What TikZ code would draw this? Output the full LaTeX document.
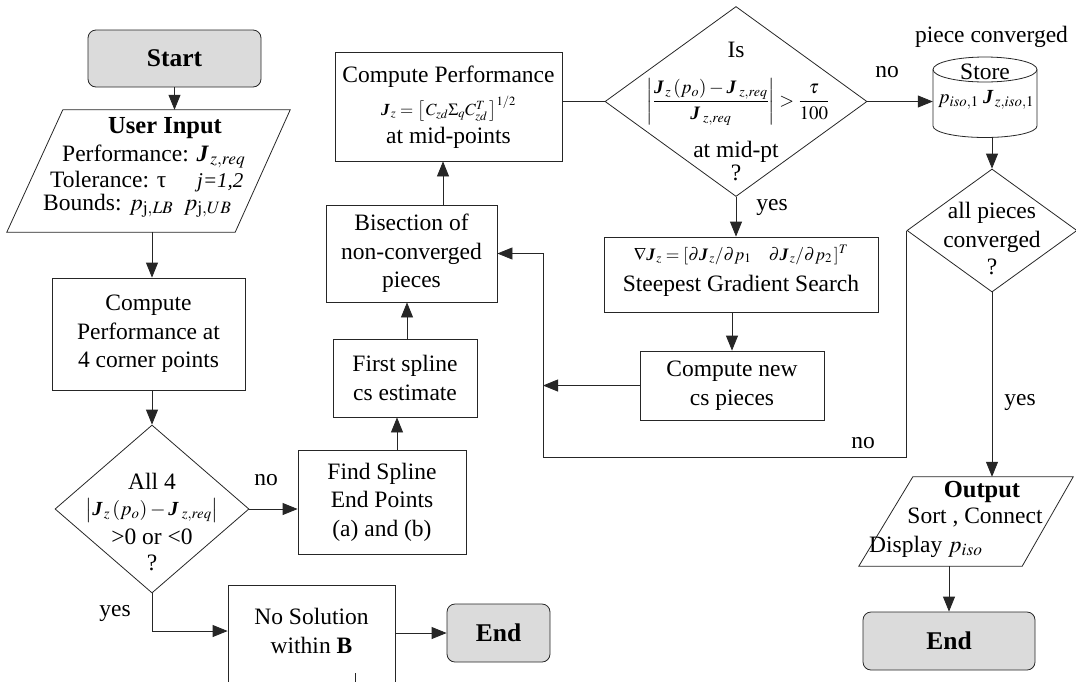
\documentclass[tikz,border=0pt]{standalone}
\usepackage{mathptmx}
\usepackage{fontspec}
\setmainfont{Liberation Serif}
\usetikzlibrary{arrows.meta,calc,shapes.geometric}

\newcommand{\fmain}{\fontsize{23.5}{28.5}\selectfont}
\newcommand{\fterm}{\fontsize{25.5}{30}\selectfont\bfseries}
\newcommand{\fhead}{\fontsize{24.5}{28}\selectfont\bfseries}
\newcommand{\Jb}{\mbox{\bfseries\itshape J}}

\tikzset{
  line/.style={draw=black!85, line width=0.8pt},
  arr/.style={line, -{Triangle[length=15pt,width=12pt]}},
  procbox/.style={line, rectangle, inner sep=0pt, align=center, font=\fmain},
  ghost/.style={rectangle, inner sep=0pt},
  termbox/.style={line, rectangle, rounded corners=8pt, fill=black!14, inner sep=0pt, font=\fterm},
  decbox/.style={line, diamond, inner sep=0pt},
  lbl/.style={inner sep=0pt, font=\fmain, align=center},
}

\begin{document}
\begin{tikzpicture}[x=1pt,y=-1pt]
\path[use as bounding box] (0,0) rectangle (1076,681);
\clip (0,0) rectangle (1076,681);

% ---------- left column ----------
\node[termbox, minimum width=173pt, minimum height=57pt] (start) at (174.5,58.5) {Start};

\node[ghost, minimum width=283pt, minimum height=122pt] (input) at (148.5,171) {};
\draw[line] ([xshift=56pt]input.north west) -- (input.north east)
  -- ([xshift=-55pt]input.south east) -- (input.south west) -- cycle;
\node[lbl, anchor=base west, font=\fhead] (inA) at (108,133) {User Input};
\node[lbl, anchor=base west] (inB) at (62,161) {Performance: $\Jb_{\,z,req}$};
\node[lbl, anchor=base west] (inC) at (50,187) {Tolerance: τ};
\node[lbl, anchor=base west, font=\fontsize{21}{24}\selectfont\itshape] (inD) at (197,187) {j=1,2};
\node[lbl, anchor=base west] (inE) at (43,210) {Bounds: $p_{\mathrm{j},LB}\;\;p_{\mathrm{j},UB}$};

\node[procbox, minimum width=193pt, minimum height=112pt] (corner) at (148.5,334)
  {Compute\\Performance at\\4 corner points};

\node[decbox, minimum width=194pt, minimum height=168pt] (d1) at (152,509) {};
\node[lbl] (d1a) at (152,481) {All 4};
\node[lbl, font=\fontsize{20}{24}\selectfont] (d1b) at (152,510)
  {$\left|\Jb_{\,z}\,(p_o)-\Jb_{\;z,req}\right|$};
\node[lbl] (d1c) at (152,537) {>0 or <0};
\node[lbl] (d1d) at (152,563) {?};

\node[procbox, minimum width=168pt, minimum height=104pt] (find) at (382,502)
  {Find Spline\\End Points\\(a) and (b)};

\node[procbox, minimum width=167pt, minimum height=135pt] (nosol) at (311.5,652.5) {};
\node[lbl] (nosoltxt) at (311.5,631) {No Solution\\within \textbf{B}};
\coordinate (stub) at (355,673);

\node[termbox, minimum width=103pt, minimum height=58pt] (end1) at (498.5,633) {End};

% ---------- middle column ----------
\node[procbox, minimum width=144pt, minimum height=78pt] (first) at (405,378)
  {First spline\\cs estimate};
\node[procbox, minimum width=171pt, minimum height=97pt] (bisect) at (411.5,253.5)
  {Bisection of\\non-converged\\pieces};

\node[procbox, minimum width=227pt, minimum height=109pt] (perf) at (448.5,106.5) {};
\node[lbl] (perfA) at (448.5,77) {Compute Performance};
\node[lbl, font=\fontsize{17}{20}\selectfont] (perfB) at (448.5,109)
  {$\Jb_{\,z}=\left[\,C_{zd}\Sigma_q C_{zd}^{T}\,\right]^{1/2}$};
\node[lbl] (perfC) at (448.5,138) {at mid-points};

\node[decbox, minimum width=262pt, minimum height=190pt] (d2) at (736,101.5) {};
\node[lbl] (d2a) at (736,50) {Is};
\node[lbl, font=\fontsize{19}{22}\selectfont] (d2b) at (738,102)
  {$\displaystyle\left|\frac{\Jb_{\,z}\,(p_o)-\Jb_{\;z,req}}{\Jb_{\;z,req}}\right|>\frac{\tau}{100}$};
\node[lbl] (d2c) at (736,152) {at mid-pt};
\node[lbl] (d2d) at (736,173) {?};

\node[procbox, minimum width=274pt, minimum height=75pt] (grad) at (741,274.5) {};
\node[lbl, font=\fontsize{17.5}{20}\selectfont] (gradA) at (741,255)
  {$\nabla\Jb_{\,z}=[\partial\Jb_{\,z}/\partial p_1\quad\partial\Jb_{\,z}/\partial p_2\,]^{T}$};
\node[lbl] (gradB) at (741,286) {Steepest Gradient Search};

\node[procbox, minimum width=184pt, minimum height=69pt] (cnew) at (732,385.5)
  {Compute new\\cs pieces};

\coordinate (loopbl) at (543,457);

% ---------- right column ----------
\node[ghost, minimum width=104pt, minimum height=80pt] (store) at (985,97.5) {};
\draw[line] (933,69.5) -- (933,126)
  .. controls (933,132.4) and (956.3,137.5) .. (985,137.5)
  .. controls (1013.7,137.5) and (1037,132.4) .. (1037,126) -- (1037,69.5);
\draw[line] (985,69.5) ellipse [x radius=52pt, y radius=12.5pt];
\node[lbl] (storeA) at (985,72) {Store};
\node[lbl, font=\fontsize{20}{24}\selectfont] (storeB) at (986,100)
  {$p_{iso,1}\;\Jb_{\,z,iso,1}$};
\node[lbl] (pc) at (991.5,37) {piece converged};

\node[decbox, minimum width=170pt, minimum height=123pt] (d3) at (992,230.5) {};
\node[lbl] (d3a) at (992,213) {all pieces};
\node[lbl] (d3b) at (992,242) {converged};
\node[lbl] (d3c) at (992,267) {?};

\node[ghost, minimum width=214pt, minimum height=89pt] (output) at (966,521.5) {};
\draw[line] ([xshift=54pt]output.north west) -- (output.north east)
  -- ([xshift=-51pt]output.south east) -- (output.south west) -- cycle;
\node[lbl, anchor=base, font=\fhead] (outA) at (982,497) {Output};
\node[lbl, anchor=base] (outB) at (975,523) {Sort , Connect};
\node[lbl, anchor=base west] (outC) at (869,552) {Display $p_{iso}$};

\node[termbox, minimum width=172pt, minimum height=58pt] (end2) at (949,641) {End};

% ---------- connectors ----------
\draw[arr] (start.south) -- (start.south |- input.north);
\draw[arr] (input.south -| d1.north) -- (corner.north -| d1.north);
\draw[arr] (corner.south -| d1.north) -- (d1.north);
\draw[arr] (d1.east) -- (d1.east -| find.west);
\draw[arr] (d1.south) |- (nosol.west |- nosoltxt);
\draw[arr] (nosol.east |- end1.west) -- (end1.west);
\draw[line] (stub) -- (stub |- nosol.south);
\draw[arr] ([xshift=15pt]find.north) -- ([xshift=15pt]find.north |- first.south);
\draw[arr] ([xshift=2pt]first.north) -- ([xshift=2pt]first.north |- bisect.south);
\draw[arr] ([xshift=31.5pt]bisect.north) -- ([xshift=31.5pt]bisect.north |- perf.south);
\draw[line] (d2.west -| perf.east) -- (d2.west);
\draw[arr] (d2.east) -- (d2.east -| store.west);
\draw[arr] (d2.south) -- (d2.south |- grad.north);
\draw[arr] (grad.south -| cnew.north) -- (cnew.north);
\draw[arr] (cnew.west) -- (cnew.west -| loopbl);
\draw[arr] (d3.west) |- (loopbl) |- (bisect.east);
\draw[arr] (d3.north |- store.south) -- (d3.north);
\draw[arr] (d3.south) -- (d3.south |- output.north);
\draw[arr] (output.south -| end2.north) -- (end2.north);

% ---------- branch labels ----------
\node[lbl] (noA) at (266,480) {no};
\node[lbl] (yesA) at (115,613) {yes};
\node[lbl] (noB) at (887,72) {no};
\node[lbl] (yesB) at (772,207) {yes};
\node[lbl] (noC) at (863,443) {no};
\node[lbl] (yesC) at (1020,402) {yes};
\end{tikzpicture}
\end{document}
